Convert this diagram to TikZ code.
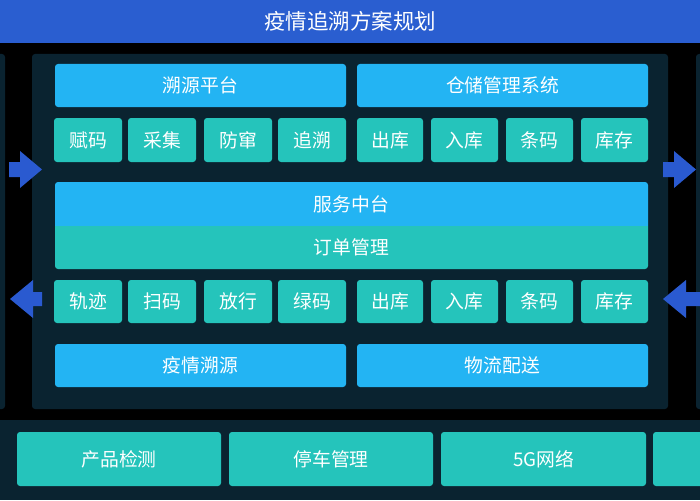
\documentclass[tikz,border=0pt]{standalone}
\usepackage{fontspec}
\setmainfont{Noto Sans CJK SC}
\definecolor{cblue}{HTML}{23B4F3}
\definecolor{cteal}{HTML}{25C4BB}
\definecolor{ctitle}{HTML}{2A5ED0}
\definecolor{carrow}{HTML}{2A5AD0}
\definecolor{cpanel}{HTML}{0A2330}
\tikzset{
  bx/.style={rounded corners=3pt, inner sep=0pt, text=white, font=\fontsize{18.8}{22}\selectfont, anchor=center},
  bbox/.style={bx, fill=cblue},
  tbox/.style={bx, fill=cteal},
  panel/.style={fill=cpanel, rounded corners=3pt},
  arr/.style={fill=carrow}
}
\newcommand{\boxat}[7]{% style, name, x1, y1, x2, y2, text
  \node[#1, minimum width={(#5-#3)*1pt}, minimum height={(#6-#4)*1pt}] (#2) at ({(#3+#5)/2},{(#4+#6)/2}) {#7};}
\begin{document}
\begin{tikzpicture}[x=1pt,y=-1pt]
\useasboundingbox (0,0) rectangle (700,500);
\fill[black] (0,0) rectangle (700,500);
% title
\fill[ctitle] (0,0) rectangle (700,43);
\node[text=white, font=\fontsize{21.5}{24}\selectfont] (title) at (350,21.5) {疫情追溯方案规划};
% panels
\fill[panel] (-10,54) rectangle (5,409);
\fill[panel] (32,54) rectangle (668,409);
\fill[panel] (696,54) rectangle (710,409);
\fill[cpanel] (0,420) rectangle (700,500);
% row 1
\boxat{bbox}{r1a}{55}{64}{346}{107}{溯源平台}
\boxat{bbox}{r1b}{357}{64}{648}{107}{仓储管理系统}
% row 2
\boxat{tbox}{s1}{54}{118}{122}{162}{赋码}
\boxat{tbox}{s2}{128}{118}{196}{162}{采集}
\boxat{tbox}{s3}{204}{118}{272}{162}{防窜}
\boxat{tbox}{s4}{278}{118}{346}{162}{追溯}
\boxat{tbox}{s5}{357}{118}{423}{162}{出库}
\boxat{tbox}{s6}{431}{118}{498}{162}{入库}
\boxat{tbox}{s7}{506}{118}{573}{162}{条码}
\boxat{tbox}{s8}{581}{118}{648}{162}{库存}
% middle
\fill[cblue] (55,226) [rounded corners=3pt] -- (55,182) -- (648,182) [sharp corners] -- (648,226) -- cycle;
\fill[cteal] (55,226) [rounded corners=3pt] -- (55,269) -- (648,269) [sharp corners] -- (648,226) -- cycle;
\node[text=white, font=\fontsize{18.8}{22}\selectfont] (mid1) at (351.5,204) {服务中台};
\node[text=white, font=\fontsize{18.8}{22}\selectfont] (mid2) at (351.5,247.5) {订单管理};
% row 4
\boxat{tbox}{t1}{54}{280}{122}{323}{轨迹}
\boxat{tbox}{t2}{128}{280}{196}{323}{扫码}
\boxat{tbox}{t3}{204}{280}{272}{323}{放行}
\boxat{tbox}{t4}{278}{280}{346}{323}{绿码}
\boxat{tbox}{t5}{357}{280}{423}{323}{出库}
\boxat{tbox}{t6}{431}{280}{498}{323}{入库}
\boxat{tbox}{t7}{506}{280}{573}{323}{条码}
\boxat{tbox}{t8}{581}{280}{648}{323}{库存}
% row 5
\boxat{bbox}{r5a}{55}{344}{346}{387}{疫情溯源}
\boxat{bbox}{r5b}{357}{344}{648}{387}{物流配送}
% bottom
\boxat{tbox}{b1}{17}{432}{221}{486}{产品检测}
\boxat{tbox}{b2}{229}{432}{433}{486}{停车管理}
\boxat{tbox}{b3}{441}{432}{646}{486}{5G网络}
\fill[cteal, rounded corners=3pt] (653,432) rectangle (720,486);
% arrows
\fill[arr] (9,162) -- (20,162) -- (20,151) -- (42,169.5) -- (20,188) -- (20,177) -- (9,177) -- cycle;
\fill[arr] (663,162) -- (674,162) -- (674,151) -- (696,169.5) -- (674,188) -- (674,177) -- (663,177) -- cycle;
\fill[arr] (42,292) -- (33,292) -- (33,280) -- (10,299) -- (33,318) -- (33,306) -- (42,306) -- cycle;
\fill[arr] (700,292) -- (686,292) -- (686,280) -- (663,299) -- (686,318) -- (686,306) -- (700,306) -- cycle;
\end{tikzpicture}
\end{document}
